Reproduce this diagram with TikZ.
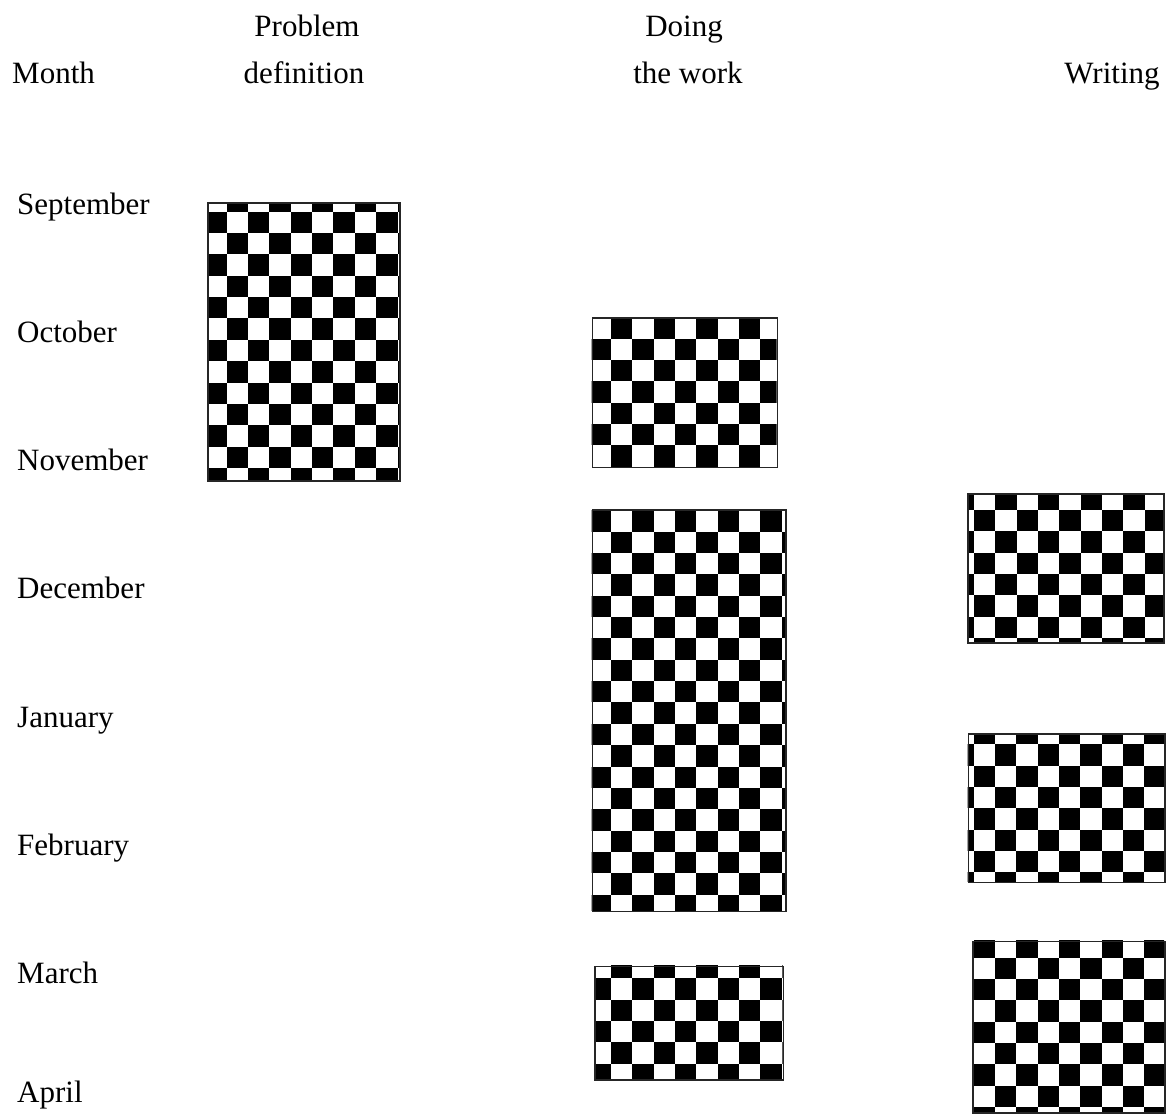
\documentclass[tikz,border=0pt]{standalone}
\usepackage{fontspec}
\setmainfont{Liberation Serif}
\tikzset{
  boardframe/.style={rectangle,draw=black!85,line width=1.6pt,inner sep=0pt,anchor=north west},
  monthlabel/.style={anchor=base west,inner sep=0pt,font=\fontsize{31}{37}\selectfont},
  headlabel/.style={anchor=base,inner sep=0pt,font=\fontsize{31}{37}\selectfont},
}
\newcommand{\cellsize}{21.35}
% black and white squares clipped to a box: corners (#1,#2)-(#3,#4), one black square at (#5,#6)
\newcommand{\Checker}[6]{%
  \begin{scope}
    \clip (#1,#2) rectangle (#3,#4);
    \fill[white] (#1,#2) rectangle (#3,#4);
    \foreach \i in {-2,...,10}{
      \foreach \j in {-2,...,19}{
        \pgfmathtruncatemacro\sq{\i+\j+100}
        \ifodd\sq\else
          \fill[black] ({#5+\i*\cellsize},{#6+\j*\cellsize}) rectangle +(\cellsize,\cellsize);
        \fi
      }
    }
  \end{scope}}
\begin{document}
\begin{tikzpicture}[x=1pt,y=-1pt]
  \useasboundingbox[fill=white] (0,0) rectangle (1166,1114);
  % column heads
  \node[monthlabel] (month) at (12,83) {Month};
  \node[headlabel] (prob1) at (307,36) {Problem};
  \node[headlabel] (prob2) at (304,83) {definition};
  \node[headlabel] (work1) at (684,36) {Doing};
  \node[headlabel] (work2) at (688,83) {the work};
  \node[headlabel] (write) at (1112,83) {Writing};
  % months
  \node[monthlabel] (sep) at (17,214) {September};
  \node[monthlabel] (oct) at (17,342) {October};
  \node[monthlabel] (nov) at (17,470) {November};
  \node[monthlabel] (dec) at (17,598) {December};
  \node[monthlabel] (jan) at (17,727) {January};
  \node[monthlabel] (feb) at (17,855) {February};
  \node[monthlabel] (mar) at (17,983) {March};
  \node[monthlabel] (apr) at (17,1102) {April};
  % problem definition
  \Checker{207}{202}{399}{480}{205.35}{211.7}
  \node[boardframe,minimum width=192pt,minimum height=278pt] (pd) at (207,202) {};
  % doing the work
  \Checker{591.7}{317.3}{776.7}{466.7}{611}{317.3}
  \node[boardframe,minimum width=185pt,minimum height=149.4pt] (dw1) at (591.7,317.3) {};
  \Checker{591.7}{509.3}{785}{910.7}{589.65}{510.3}
  \node[boardframe,minimum width=193.3pt,minimum height=401.4pt] (dw2) at (591.7,509.3) {};
  \Checker{594}{965.7}{782.7}{1079}{611}{956.95}
  \node[boardframe,minimum width=188.7pt,minimum height=113.3pt] (dw3) at (594,965.7) {};
  % writing
  \Checker{967.3}{493.3}{1163.3}{642.3}{974}{510}
  \node[boardframe,minimum width=196pt,minimum height=149pt] (wr1) at (967.3,493.3) {};
  \Checker{967.7}{733.3}{1164}{881.7}{995}{744.3}
  \node[boardframe,minimum width=196.3pt,minimum height=148.4pt] (wr2) at (967.7,733.3) {};
  \Checker{972.3}{940.7}{1164}{1112}{995}{957.7}
  \node[boardframe,minimum width=191.7pt,minimum height=171.3pt] (wr3) at (972.3,940.7) {};
\end{tikzpicture}
\end{document}
